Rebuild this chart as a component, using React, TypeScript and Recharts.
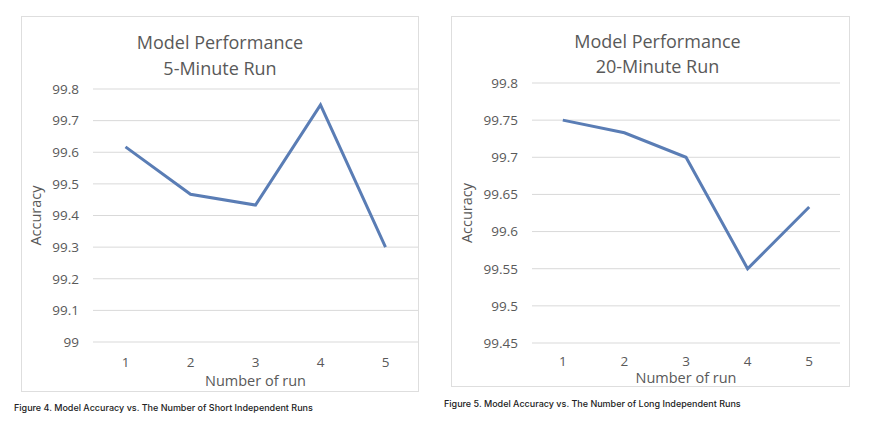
import React from 'react'
import { LineChart, Line, XAxis, YAxis, CartesianGrid } from 'recharts'

// Run numbers shared by both panels
const runs = ['1', '2', '3', '4', '5']

// Accuracy (%) per run
const shortRunAccuracy = [99.617, 99.467, 99.433, 99.75, 99.3]
const longRunAccuracy = [99.75, 99.733, 99.7, 99.55, 99.633]

// Y tick labels
const shortTicks = [99, 99.1, 99.2, 99.3, 99.4, 99.5, 99.6, 99.7, 99.8]
const longTicks = [99.45, 99.5, 99.55, 99.6, 99.65, 99.7, 99.75, 99.8]

const LINE = '#5a7db5'
const GRID = '#d9d9d9'
const TEXT = '#595959'
const FONT = '"Open Sans", sans-serif'

const shortData = runs.map((run, i) => ({ run, accuracy: shortRunAccuracy[i] }))
const longData = runs.map((run, i) => ({ run, accuracy: longRunAccuracy[i] }))

interface PanelProps {
  data: { run: string; accuracy: number }[]
  ticks: number[]
  titleLines: string[]
  caption: string
  box: { left: number; top: number; width: number; height: number }
  margin: { top: number; right: number }
  yWidth: number
  xHeight: number
  xPad: number
  xTickMargin: number
  titleTop: number
  titleShift: number
  titleLineHeight: number
  yLabelOffset: number
  xLabelOffset: number
  captionTop: number
  captionLeft: number
}

function Panel(p: PanelProps) {
  return (
    <>
      <div
        style={{
          position: 'absolute',
          left: p.box.left,
          top: p.box.top,
          width: p.box.width - 2,
          height: p.box.height - 2,
          border: '1px solid #dedede',
        }}
      />
      <div
        style={{
          position: 'absolute',
          left: p.box.left + p.titleShift,
          top: p.titleTop,
          width: p.box.width,
          textAlign: 'center',
          fontFamily: FONT,
          fontSize: 18,
          lineHeight: `${p.titleLineHeight}px`,
          color: TEXT,
        }}
      >
        {p.titleLines.map((t) => (
          <div key={t}>{t}</div>
        ))}
      </div>
      <div style={{ position: 'absolute', left: p.box.left, top: p.box.top }}>
        <LineChart
          width={p.box.width}
          height={p.box.height}
          data={p.data}
          margin={{ top: p.margin.top, right: p.margin.right, left: 0, bottom: 0 }}
        >
          <CartesianGrid vertical={false} stroke={GRID} strokeWidth={1} />
          <XAxis
            dataKey="run"
            height={p.xHeight}
            axisLine={false}
            tickLine={false}
            tickMargin={p.xTickMargin}
            padding={{ left: p.xPad, right: p.xPad }}
            tick={{ fill: TEXT, fontSize: 13.5, fontFamily: FONT }}
            label={{
              value: 'Number of run',
              position: 'insideBottom',
              offset: p.xLabelOffset,
              fill: TEXT,
              fontSize: 14.5,
              fontFamily: FONT,
            }}
          />
          <YAxis
            type="number"
            domain={[p.ticks[0], p.ticks[p.ticks.length - 1]]}
            ticks={p.ticks}
            width={p.yWidth}
            axisLine={false}
            tickLine={false}
            tickMargin={8}
            tick={{ fill: TEXT, fontSize: 13.5, fontFamily: FONT }}
            label={{
              value: 'Accuracy',
              angle: -90,
              position: 'insideLeft',
              offset: p.yLabelOffset,
              fill: TEXT,
              fontSize: 14.5,
              fontFamily: FONT,
              style: { textAnchor: 'middle' },
            }}
          />
          <Line
            type="linear"
            dataKey="accuracy"
            stroke={LINE}
            strokeWidth={3}
            dot={false}
            isAnimationActive={false}
          />
        </LineChart>
      </div>
      <div
        style={{
          position: 'absolute',
          left: p.captionLeft,
          top: p.captionTop,
          fontFamily: 'Inter, sans-serif',
          fontWeight: 500,
          fontSize: 9,
          color: '#222',
          whiteSpace: 'nowrap',
        }}
      >
        {p.caption}
      </div>
    </>
  )
}

export default function App() {
  return (
    <div
      style={{
        position: 'fixed',
        left: 0,
        top: 0,
        width: 870,
        height: 422,
        background: '#fff',
        overflow: 'hidden',
      }}
    >
      <Panel
        data={shortData}
        ticks={shortTicks}
        titleLines={['Model Performance', '5-Minute Run']}
        caption="Figure 4. Model Accuracy vs. The Number of Short Independent Runs"
        box={{ left: 21, top: 16, width: 398, height: 376 }}
        margin={{ top: 73, right: 1 }}
        yWidth={72}
        xHeight={50}
        xPad={32.5}
        xTickMargin={9}
        titleTop={29}
        titleShift={0}
        titleLineHeight={26}
        yLabelOffset={15}
        xLabelOffset={6}
        captionTop={402}
        captionLeft={14}
      />
      <Panel
        data={longData}
        ticks={longTicks}
        titleLines={['Model Performance', '20-Minute Run']}
        caption="Figure 5. Model Accuracy vs. The Number of Long Independent Runs"
        box={{ left: 451, top: 16, width: 399, height: 371 }}
        margin={{ top: 67, right: 10 }}
        yWidth={81}
        xHeight={44}
        xPad={30.8}
        xTickMargin={7}
        titleTop={28.5}
        titleShift={7}
        titleLineHeight={25}
        yLabelOffset={16}
        xLabelOffset={4}
        captionTop={398}
        captionLeft={444}
      />
    </div>
  )
}
